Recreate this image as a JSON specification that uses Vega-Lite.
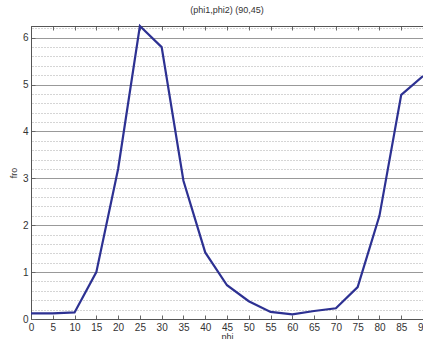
{
  "$schema": "https://vega.github.io/schema/vega-lite/v6.json",
  "width": 392,
  "height": 293,
  "autosize": {"type": "none"},
  "padding": {"left": 31, "top": 26, "right": 0, "bottom": 20},
  "background": "white",
  "title": {
    "text": "(phi1,phi2) (90,45)",
    "fontSize": 9,
    "fontWeight": "normal",
    "font": "Liberation Sans",
    "color": "#333333",
    "anchor": "middle",
    "offset": 7
  },
  "config": {
    "view": {"stroke": "#666666", "strokeWidth": 1},
    "axis": {
      "labelFont": "Liberation Sans",
      "titleFont": "Liberation Sans",
      "labelFontSize": 10,
      "titleFontSize": 9,
      "titleFontWeight": "normal",
      "labelColor": "#333333",
      "titleColor": "#333333",
      "domainColor": "#555555",
      "tickColor": "#666666",
      "labelFlush": false,
      "labelOverlap": false,
      "labelBound": false
    }
  },
  "data": {
    "values": [
      {"phi": 0, "fro": 0.12},
      {"phi": 5, "fro": 0.12},
      {"phi": 10, "fro": 0.14},
      {"phi": 15, "fro": 1.0},
      {"phi": 20, "fro": 3.2},
      {"phi": 25, "fro": 6.25},
      {"phi": 30, "fro": 5.8},
      {"phi": 35, "fro": 2.95},
      {"phi": 40, "fro": 1.42},
      {"phi": 45, "fro": 0.72},
      {"phi": 50, "fro": 0.38},
      {"phi": 55, "fro": 0.15},
      {"phi": 60, "fro": 0.1},
      {"phi": 65, "fro": 0.17},
      {"phi": 70, "fro": 0.23},
      {"phi": 75, "fro": 0.68},
      {"phi": 80, "fro": 2.2},
      {"phi": 85, "fro": 4.78},
      {"phi": 90, "fro": 5.18}
    ]
  },
  "layer": [
    {
      "mark": {"type": "line", "color": "#2d3192", "strokeWidth": 2, "opacity": 0},
      "encoding": {
        "x": {
          "field": "phi", "type": "quantitative",
          "scale": {"domain": [0, 90], "nice": false, "zero": false},
          "axis": {
            "orient": "top", "values": [0,5,10,15,20,25,30,35,40,45,50,55,60,65,70,75,80,85,90],
            "labels": false, "title": null, "tickSize": -4, "grid": false
          }
        },
        "y": {
          "field": "fro", "type": "quantitative",
          "scale": {"domain": [0, 6.25], "nice": false},
          "axis": {
            "orient": "right",
            "values": [0.2,0.4,0.6,0.8,1.2,1.4,1.6,1.8,2.2,2.4,2.6,2.8,3.2,3.4,3.6,3.8,4.2,4.4,4.6,4.8,5.2,5.4,5.6,5.8,6.2],
            "labels": false, "ticks": false, "title": null, "domain": false,
            "grid": true, "gridDash": [1, 2], "gridColor": "#aaaaaa", "gridWidth": 1
          }
        }
      }
    },
    {
      "mark": {"type": "line", "color": "#2d3192", "strokeWidth": 2.2},
      "encoding": {
        "x": {
          "field": "phi", "type": "quantitative",
          "scale": {"domain": [0, 90], "nice": false, "zero": false},
          "axis": {
            "orient": "bottom", "values": [0,5,10,15,20,25,30,35,40,45,50,55,60,65,70,75,80,85,90],
            "title": "phi", "tickSize": -4, "labelPadding": 7, "titlePadding": 0, "grid": false
          }
        },
        "y": {
          "field": "fro", "type": "quantitative",
          "scale": {"domain": [0, 6.25], "nice": false},
          "axis": {
            "orient": "left", "values": [0,1,2,3,4,5,6],
            "title": "fro", "tickSize": -4, "labelPadding": 7, "titlePadding": 4,
            "grid": true, "gridColor": "#999999", "gridWidth": 1
          }
        }
      }
    }
  ],
  "resolve": {"axis": {"x": "independent", "y": "independent"}}
}
